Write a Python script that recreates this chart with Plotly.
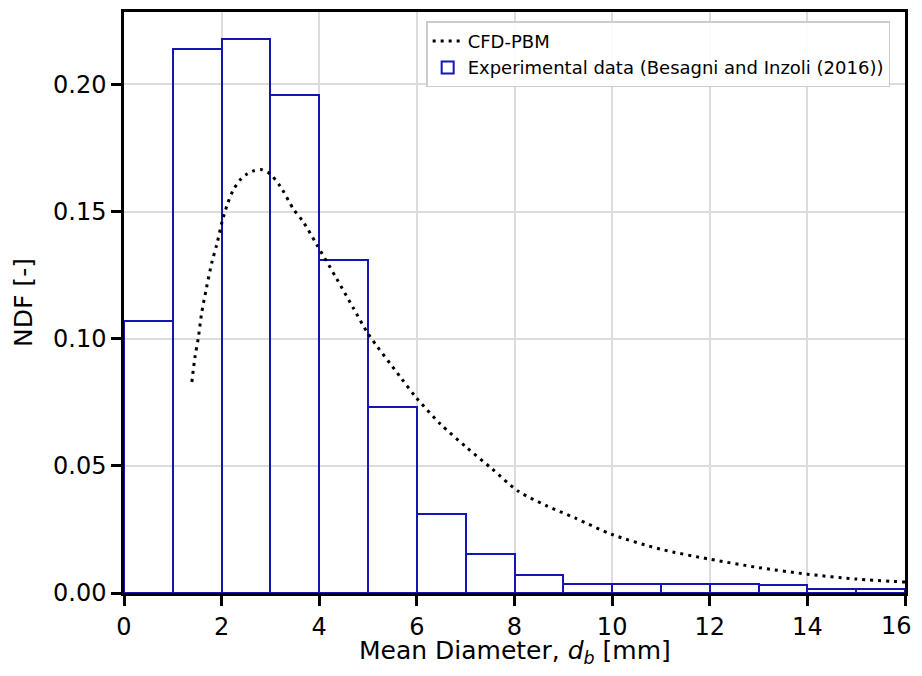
import plotly.graph_objects as go

# experimental histogram (bin edges 0..16, width 1 mm)
bin_left = [0, 1, 2, 3, 4, 5, 6, 7, 8, 9, 10, 11, 12, 13, 14, 15]
ndf_exp = [0.107, 0.214, 0.218, 0.196, 0.131, 0.073, 0.031, 0.0155, 0.0070,
           0.0037, 0.0037, 0.0037, 0.0037, 0.0033, 0.0016, 0.0016]

# CFD-PBM curve
d_cfd = [1.39, 1.455, 1.52, 1.59, 1.69, 1.80, 1.90, 2.01, 2.12, 2.24, 2.38,
         2.52, 2.65, 2.82, 2.98, 3.20, 3.47, 3.67, 3.95, 4.36, 4.70, 5.0,
         5.66, 5.98, 6.48, 7.02, 7.53, 8.08, 8.66, 9.24, 10.0, 11.0, 12.0,
         13.0, 14.0, 15.0, 16.0]
ndf_cfd = [0.083, 0.093, 0.100, 0.110, 0.120, 0.130, 0.137, 0.146, 0.153,
           0.1585, 0.1625, 0.1648, 0.166, 0.1665, 0.165, 0.160, 0.151, 0.146,
           0.137, 0.1235, 0.112, 0.102, 0.085, 0.077, 0.0665, 0.0572, 0.049,
           0.040, 0.0343, 0.0295, 0.023, 0.0172, 0.0133, 0.010, 0.0074,
           0.0055, 0.0043]

x_ticks = [0, 2, 4, 6, 8, 10, 12, 14, 16]
x_ticklabels = ["0", "2", "4", "6", "8", "10", "12", "14", "16"]
y_ticks = [0, 0.05, 0.10, 0.15, 0.20]

bin_centre = [b + 0.5 for b in bin_left]

fig = go.Figure()
fig.add_trace(
    go.Scatter(
        x=d_cfd,
        y=ndf_cfd,
        mode="lines",
        line=dict(color="black", width=3, dash="3px,5px", shape="spline", smoothing=0.8),
        name="CFD-PBM",
    )
)
fig.add_trace(
    go.Bar(
        x=bin_centre,
        y=ndf_exp,
        width=1,
        marker=dict(color="rgba(255,255,255,0)", line=dict(color="#1515b0", width=2)),
        name="Experimental data (Besagni and Inzoli (2016))",
    )
)

axis_common = dict(
    showline=True,
    linecolor="black",
    linewidth=2.5,
    mirror=True,
    ticks="outside",
    ticklen=10,
    tickwidth=2.5,
    tickcolor="black",
    showgrid=True,
    gridcolor="#dcdcdc",
    gridwidth=1.5,
    zeroline=False,
    tickfont=dict(size=24, color="black"),
)

# last x label would be cut by the page edge: draw it as an annotation nudged left
fig.add_annotation(
    x=x_ticks[-1],
    y=0,
    xref="x",
    yref="paper",
    text=x_ticklabels[-1],
    showarrow=False,
    yanchor="top",
    xanchor="center",
    xshift=-9,
    yshift=-17,
    font=dict(size=24, color="black"),
)

# x title as an annotation so it cannot push the plot area
fig.add_annotation(
    x=0.5,
    y=0,
    xref="paper",
    yref="paper",
    text="Mean Diameter, <i>d</i><sub><i>b</i></sub> [mm]",
    showarrow=False,
    yanchor="top",
    xanchor="center",
    yshift=-42,
    borderpad=0,
    font=dict(size=25, color="black"),
)

# page body keeps its 8px margin, so the figure sits at (8, 8) in the window
fig.update_layout(
    width=906,
    height=660,
    margin=dict(l=116, r=9, t=4, b=75),
    paper_bgcolor="white",
    plot_bgcolor="white",
    font=dict(family="DejaVu Sans", color="black"),
    bargap=0,
    xaxis=dict(
        range=[0, 16],
        tickvals=x_ticks,
        ticktext=x_ticklabels[:-1] + [" "],
        automargin=False,
        **axis_common,
    ),
    yaxis=dict(
        range=[0, 0.2285],
        tickvals=y_ticks,
        tickformat=".2f",
        title=dict(text="NDF [-]", font=dict(size=25), standoff=14),
        **axis_common,
    ),
    legend=dict(
        x=0.981,
        y=0.984,
        xanchor="right",
        yanchor="top",
        bgcolor="rgba(255,255,255,0.9)",
        bordercolor="#cccccc",
        borderwidth=1.5,
        font=dict(size=18),
        tracegroupgap=2,
    ),
)

fig.write_html("out.html", config={"displayModeBar": False})
